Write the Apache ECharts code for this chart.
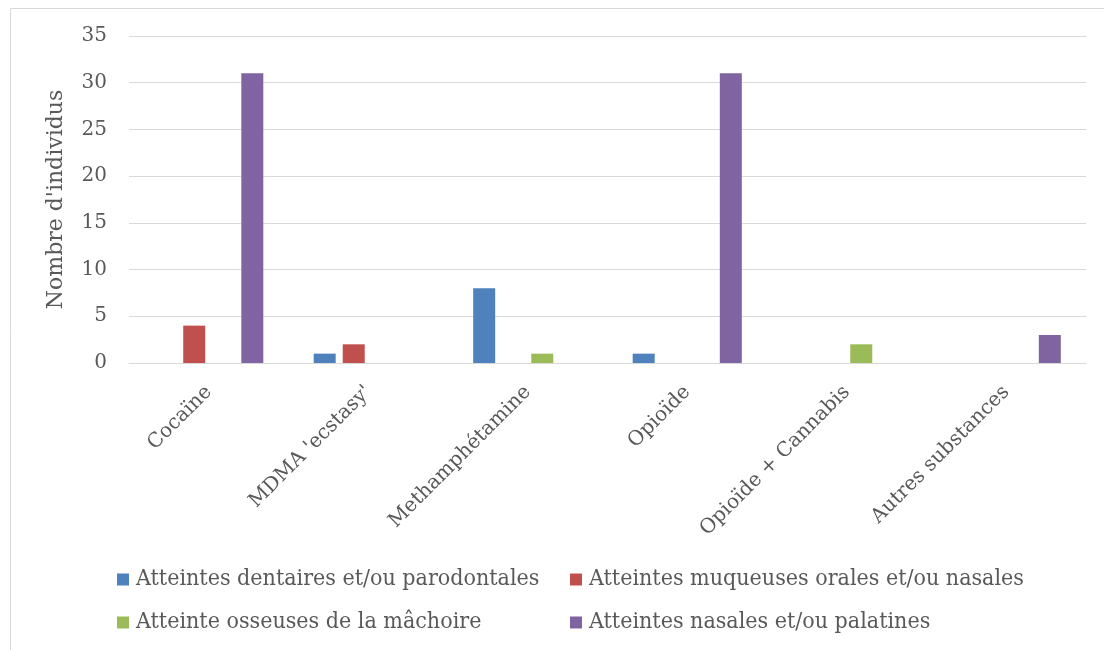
<!DOCTYPE html>
<html>
<head>
<meta charset="utf-8">
<script src="https://cdn.jsdelivr.net/npm/echarts@6/dist/echarts.min.js"></script>
<style>
  html, body { margin: 0; padding: 0; background: #fff; }
  #chart { width: 1104px; height: 650px; }
</style>
</head>
<body>
<div id="chart"></div>
<script>
// Substances (categories on the x axis)
const categories = ['Cocaïne', "MDMA 'ecstasy'", 'Methamphétamine', 'Opioïde', 'Opioïde + Cannabis', 'Autres substances'];

// Number of individuals per type of lesion
const dentaires = [0, 1, 8, 1, 0, 0];
const muqueuses = [4, 2, 0, 0, 0, 0];
const osseuses  = [0, 0, 1, 0, 2, 0];
const nasales   = [31, 0, 0, 31, 0, 3];

const seriesNames = [
  'Atteintes dentaires et/ou parodontales',
  'Atteintes muqueuses orales et/ou nasales',
  'Atteinte osseuses de la mâchoire',
  'Atteintes nasales et/ou palatines'
];

// Y axis ticks
const yMin = 0, yMax = 35, yStep = 5;

const colors = ['#4F81BD', '#C0504D', '#9BBB59', '#8064A2'];
const serif = "'DejaVu Serif', 'Liberation Serif', serif";
const serifNarrow = "'DejaVu Serif Condensed', 'DejaVu Serif', serif";
const textColor = '#595959';

const values = [dentaires, muqueuses, osseuses, nasales];

const chart = echarts.init(document.getElementById('chart'), null, { renderer: 'canvas' });

const legendText = { fontFamily: serifNarrow, fontSize: 23, color: textColor, padding: [0, 0, 0, 2] };

chart.setOption({
  animation: false,
  color: colors,
  graphic: [{
    type: 'rect',
    left: 8, top: 6,
    shape: { width: 1110, height: 660 },
    style: { fill: 'none', stroke: '#d9d9d9', lineWidth: 1 },
    silent: true
  }],
  grid: { left: 129, right: 18, top: 36, bottom: 287, containLabel: false },
  legend: [
    {
      orient: 'vertical', left: 117, top: 568,
      itemWidth: 12, itemHeight: 12, itemGap: 20, icon: 'rect',
      padding: 0,
      data: [seriesNames[0], seriesNames[2]],
      textStyle: legendText
    },
    {
      orient: 'vertical', left: 570, top: 568,
      itemWidth: 12, itemHeight: 12, itemGap: 20, icon: 'rect',
      padding: 0,
      data: [seriesNames[1], seriesNames[3]],
      textStyle: legendText
    }
  ],
  xAxis: {
    type: 'category',
    data: categories,
    axisLine: { show: true, lineStyle: { color: '#d9d9d9', width: 1 } },
    axisTick: { show: false },
    axisLabel: {
      rotate: 45, interval: 0, margin: 26,
      fontFamily: serif, fontSize: 20, color: textColor
    }
  },
  yAxis: {
    type: 'value',
    min: yMin, max: yMax, interval: yStep,
    name: "Nombre d'individus",
    nameLocation: 'middle', nameGap: 62, nameRotate: 90,
    nameTextStyle: { fontFamily: serif, fontSize: 22, color: textColor },
    axisLine: { show: false },
    axisTick: { show: false },
    axisLabel: { fontFamily: serif, fontSize: 20, color: textColor, margin: 22 },
    splitLine: { lineStyle: { color: '#d9d9d9', width: 1 } }
  },
  series: values.map((v, i) => ({
    name: seriesNames[i],
    type: 'bar',
    data: v,
    barWidth: 22,
    barGap: '32%',
    itemStyle: { color: colors[i] }
  }))
});
</script>
</body>
</html>
